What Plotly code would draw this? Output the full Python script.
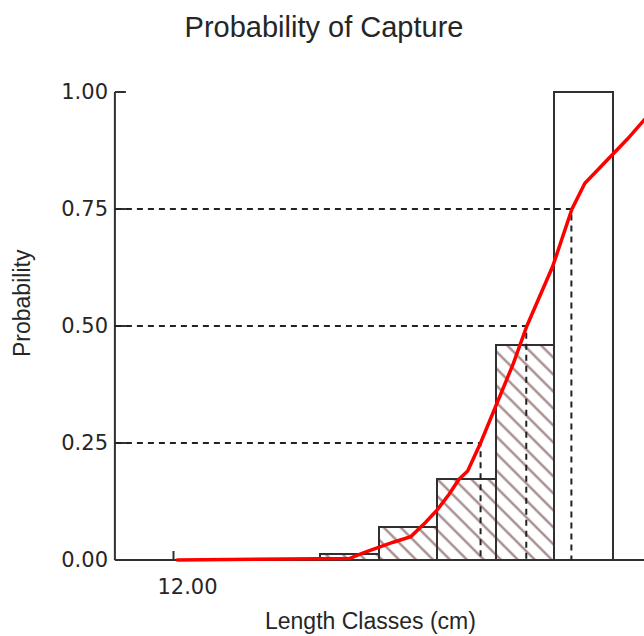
import plotly.graph_objects as go

# ---------------- data ----------------
class_mid = [15, 16, 17, 18, 19]          # length class midpoints (cm)
class_width = [1, 1, 1, 1, 1]
prob_capture = [0.012, 0.071, 0.174, 0.459, 1.0]
hatched = [True, True, True, True, False]

curve_x = [12.05, 15.0, 15.25, 15.5, 15.75, 16.05, 16.3, 16.5, 16.7, 16.87, 17.02,
           17.24, 17.55, 17.8, 18.03, 18.25, 18.47, 18.8, 19.02, 19.25, 19.49, 19.75, 20.1]
curve_y = [0.0, 0.003, 0.016, 0.028, 0.038, 0.05, 0.08, 0.107, 0.14, 0.172, 0.19,
           0.25, 0.342, 0.42, 0.5, 0.565, 0.627, 0.75, 0.805, 0.835, 0.865, 0.9, 0.95]

prob_levels = [0.25, 0.50, 0.75]          # L25, L50, L75 probabilities
length_at_level = [17.24, 18.02, 18.79]   # corresponding lengths (cm)

x_origin = 11.0
y_ticks = [0.0, 0.25, 0.50, 0.75, 1.00]
y_tick_labels = ["0.00", "0.25", "0.50", "0.75", "1.00"]
x_ticks = [12.0]
x_tick_labels = ["12.00"]

title_text = "Probability of Capture"
x_title = "Length Classes (cm)"
y_title = "Probability"

# ---------------- geometry ----------------
W, H = 644, 636
PX_PER_CM = 58.6
PX_PER_P = 468.0
X12_PX = 173.5
Y0_PX = 560
L, R, T, B = 111, 0, 68, 64
PW, PH = W - L - R, H - T - B
x_lo = 12 - (X12_PX - L) / PX_PER_CM
x_hi = x_lo + PW / PX_PER_CM
y_lo = -(H - B - Y0_PX) / PX_PER_P
y_hi = (Y0_PX - T) / PX_PER_P

TXT = "#262626"
AXC = "#303030"

fig = go.Figure()

# bars
fig.add_trace(go.Bar(
    x=class_mid, y=prob_capture, width=class_width,
    marker=dict(
        color="white",
        line=dict(color=AXC, width=2),
        pattern=dict(shape=["\\" if h else "" for h in hatched],
                     fgcolor="#4e1c1c", bgcolor="white", size=12, solidity=0.2),
    ),
    showlegend=False, hoverinfo="skip",
))

# dashed L25/L50/L75 guides
dx, dy = [], []
for p, l in zip(prob_levels, length_at_level):
    dx += [x_origin, l, l, None]
    dy += [p, p, 0, None]
fig.add_trace(go.Scatter(x=dx, y=dy, mode="lines",
                         line=dict(color="#222222", width=2, dash="6px,5px"),
                         showlegend=False, hoverinfo="skip"))

# capture probability curve
fig.add_trace(go.Scatter(x=curve_x, y=curve_y, mode="lines",
                         line=dict(color="#ff0000", width=3.5),
                         showlegend=False, hoverinfo="skip"))

# axis lines and ticks (drawn at the data origin)
shapes = [
    dict(type="line", xref="x", yref="y", x0=x_origin, x1=x_hi + 1, y0=0, y1=0,
         line=dict(color=AXC, width=2), layer="below"),
    dict(type="line", xref="x", yref="y", x0=x_origin, x1=x_origin, y0=0, y1=max(y_ticks),
         line=dict(color=AXC, width=2), layer="below"),
]
for v in y_ticks:
    shapes.append(dict(type="line", xref="x", yref="y", x0=x_origin,
                       x1=x_origin + 11 / PX_PER_CM, y0=v, y1=v,
                       line=dict(color=AXC, width=2), layer="below"))
for v in x_ticks:
    shapes.append(dict(type="line", xref="x", yref="y", x0=v, x1=v,
                       y0=0, y1=9 / PX_PER_P,
                       line=dict(color=AXC, width=2), layer="below"))

tickfont = dict(family="DejaVu Sans", size=21, color=TXT)
fig.update_layout(
    width=W, height=H,
    margin=dict(l=L, r=R, t=T, b=B, pad=0),
    paper_bgcolor="white", plot_bgcolor="white",
    shapes=shapes,
    title=dict(text=title_text, x=324 / W, xanchor="center", xref="container",
               y=1 - 27 / H, yanchor="middle", yref="container",
               font=dict(family="Liberation Sans, Arial", size=29, color=TXT)),
    xaxis=dict(range=[x_lo, x_hi], showgrid=False, zeroline=False, showline=False,
               tickmode="array", tickvals=x_ticks, ticktext=x_tick_labels,
               ticks="", tickfont=tickfont, ticklabelshift=14, ticklabelstandoff=0,
               fixedrange=True),
    yaxis=dict(range=[y_lo, y_hi], showgrid=False, zeroline=False, showline=False,
               tickmode="array", tickvals=y_ticks, ticktext=y_tick_labels,
               ticks="", tickfont=tickfont, ticklabelstandoff=2, fixedrange=True),
    annotations=[
        dict(text=x_title, xref="paper", yref="paper",
             x=(370 - L) / PW, y=(H - B - 621) / PH, xanchor="center", yanchor="middle",
             showarrow=False, font=dict(family="Liberation Sans, Arial", size=23, color=TXT)),
        dict(text=y_title, xref="paper", yref="paper", textangle=-90,
             x=(22 - L) / PW, y=(H - B - 303) / PH, xanchor="center", yanchor="middle",
             showarrow=False, font=dict(family="Liberation Sans, Arial", size=23, color=TXT)),
    ],
    bargap=0,
)

fig.write_html(
    "out.html",
    config={"displayModeBar": False},
    post_script="document.body.style.margin='0';document.body.style.padding='0';",
)
